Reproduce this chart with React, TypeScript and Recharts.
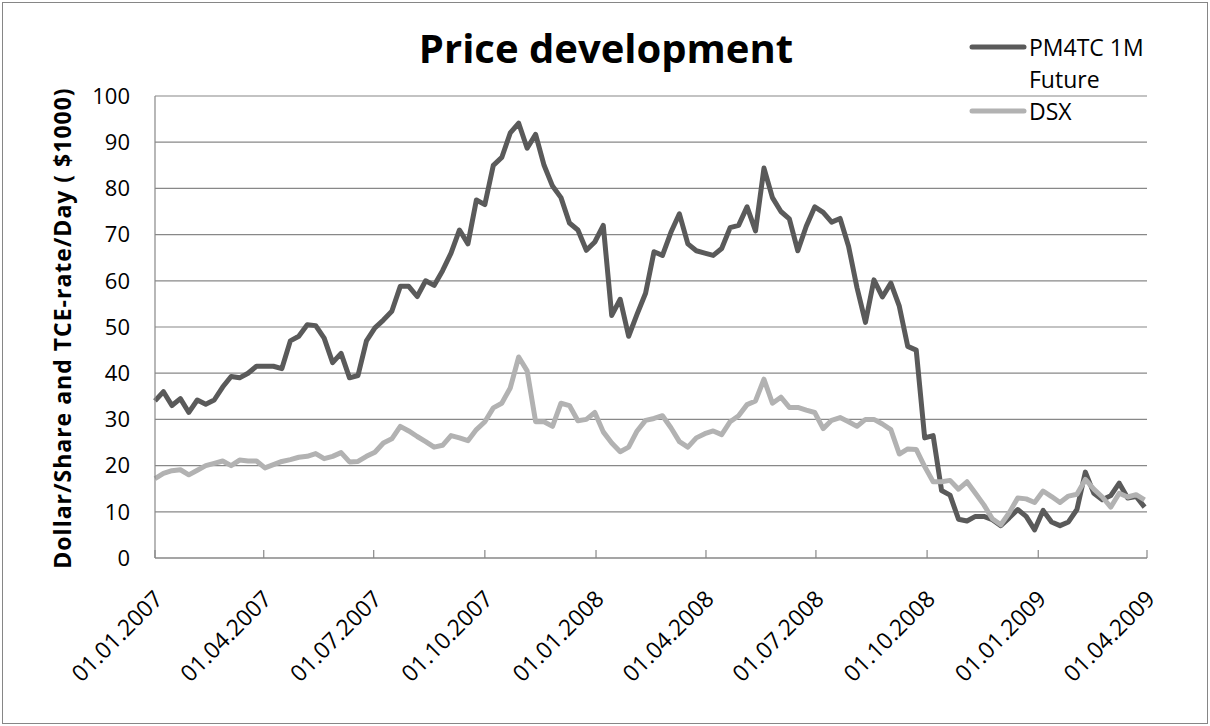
import React from "react";
import { LineChart, Line, XAxis, YAxis, CartesianGrid, Legend } from "recharts";

// weekly sampling points (Mondays)
const weekDates = [
  "2007-01-01", "2007-01-08", "2007-01-15", "2007-01-22", "2007-01-29",
  "2007-02-05", "2007-02-12", "2007-02-19", "2007-02-26",
  "2007-03-05", "2007-03-12", "2007-03-19", "2007-03-26",
  "2007-04-02", "2007-04-09", "2007-04-16", "2007-04-23", "2007-04-30",
  "2007-05-07", "2007-05-14", "2007-05-21", "2007-05-28",
  "2007-06-04", "2007-06-11", "2007-06-18", "2007-06-25",
  "2007-07-02", "2007-07-09", "2007-07-16", "2007-07-23", "2007-07-30",
  "2007-08-06", "2007-08-13", "2007-08-20", "2007-08-27",
  "2007-09-03", "2007-09-10", "2007-09-17", "2007-09-24",
  "2007-10-01", "2007-10-08", "2007-10-15", "2007-10-22", "2007-10-29",
  "2007-11-05", "2007-11-12", "2007-11-19", "2007-11-26",
  "2007-12-03", "2007-12-10", "2007-12-17", "2007-12-24", "2007-12-31",
  "2008-01-07", "2008-01-14", "2008-01-21", "2008-01-28",
  "2008-02-04", "2008-02-11", "2008-02-18", "2008-02-25",
  "2008-03-03", "2008-03-10", "2008-03-17", "2008-03-24", "2008-03-31",
  "2008-04-07", "2008-04-14", "2008-04-21", "2008-04-28",
  "2008-05-05", "2008-05-12", "2008-05-19", "2008-05-26",
  "2008-06-02", "2008-06-09", "2008-06-16", "2008-06-23", "2008-06-30",
  "2008-07-07", "2008-07-14", "2008-07-21", "2008-07-28",
  "2008-08-04", "2008-08-11", "2008-08-18", "2008-08-25",
  "2008-09-01", "2008-09-08", "2008-09-15", "2008-09-22", "2008-09-29",
  "2008-10-06", "2008-10-13", "2008-10-20", "2008-10-27",
  "2008-11-03", "2008-11-10", "2008-11-17", "2008-11-24",
  "2008-12-01", "2008-12-08", "2008-12-15", "2008-12-22", "2008-12-29",
  "2009-01-05", "2009-01-12", "2009-01-19", "2009-01-26",
  "2009-02-02", "2009-02-09", "2009-02-16", "2009-02-23",
  "2009-03-02", "2009-03-09", "2009-03-16", "2009-03-23", "2009-03-30",
];

const pm4tcValues = [
  34.0, 36.0, 33.0, 34.5, 31.5, 34.2, 33.3, 34.2, 37.0, 39.3,
  39.0, 40.0, 41.5, 41.5, 41.5, 41.0, 47.0, 48.0, 50.5, 50.3,
  47.6, 42.3, 44.3, 39.0, 39.5, 47.0, 49.8, 51.5, 53.4, 58.8,
  58.8, 56.6, 60.0, 59.0, 62.2, 66.0, 71.0, 68.0, 77.5, 76.5,
  85.0, 86.7, 92.0, 94.1, 88.7, 91.7, 85.0, 80.5, 78.0, 72.5,
  71.0, 66.6, 68.4, 72.0, 52.5, 56.0, 48.0, 52.8, 57.3, 66.3,
  65.5, 70.5, 74.5, 68.0, 66.5, 66.0, 65.5, 67.0, 71.5, 72.0,
  76.0, 70.8, 84.4, 78.0, 75.0, 73.4, 66.5, 71.8, 76.0, 74.8,
  72.7, 73.5, 67.5, 58.5, 51.0, 60.2, 56.5, 59.5, 54.5, 45.8,
  45.0, 26.0, 26.5, 14.6, 13.6, 8.4, 8.0, 9.0, 9.0, 8.3,
  7.0, 8.7, 10.5, 9.0, 6.1, 10.3, 7.8, 7.0, 7.8, 10.5,
  18.6, 14.0, 12.6, 13.5, 16.2, 13.0, 13.3, 11.0,
];

const dsxValues = [
  17.2, 18.3, 18.9, 19.1, 18.0, 19.0, 20.0, 20.5, 21.0, 20.0,
  21.2, 21.0, 21.0, 19.5, 20.2, 20.9, 21.3, 21.8, 22.0, 22.6,
  21.5, 22.0, 22.8, 20.8, 20.9, 22.0, 22.9, 24.9, 25.8, 28.5,
  27.5, 26.3, 25.2, 24.0, 24.4, 26.5, 26.0, 25.4, 27.8, 29.5,
  32.5, 33.5, 36.8, 43.5, 40.5, 29.5, 29.5, 28.5, 33.5, 33.0,
  29.7, 30.0, 31.5, 27.3, 24.9, 23.0, 24.0, 27.5, 29.8, 30.2,
  30.8, 28.2, 25.2, 24.0, 26.0, 26.9, 27.5, 26.7, 29.5, 30.8,
  33.2, 34.0, 38.7, 33.5, 34.8, 32.6, 32.6, 32.0, 31.5, 28.0,
  29.8, 30.4, 29.5, 28.5, 30.0, 30.0, 29.0, 27.8, 22.5, 23.6,
  23.5, 19.8, 16.5, 16.5, 16.8, 14.9, 16.5, 14.0, 11.5, 8.5,
  7.2, 9.8, 13.0, 12.8, 12.0, 14.5, 13.3, 12.0, 13.4, 13.8,
  17.0, 14.9, 13.2, 11.0, 14.0, 13.2, 13.7, 12.6,
];

const seriesNames = ["PM4TC 1M Future", "DSX"];

const quarterTicks = [
  "2007-01-01", "2007-04-01", "2007-07-01", "2007-10-01",
  "2008-01-01", "2008-04-01", "2008-07-01", "2008-10-01",
  "2009-01-01", "2009-04-01",
];

const yTicks = [0, 10, 20, 30, 40, 50, 60, 70, 80, 90, 100];

const data = weekDates.map((d, i) => ({
  t: Date.parse(d),
  pm4tc: pm4tcValues[i],
  dsx: dsxValues[i],
}));

const FONT = '"Open Sans", sans-serif';
const GRID = "#888888";

function formatDate(ms: number) {
  const d = new Date(ms);
  const dd = String(d.getUTCDate()).padStart(2, "0");
  const mm = String(d.getUTCMonth() + 1).padStart(2, "0");
  return `${dd}.${mm}.${d.getUTCFullYear()}`;
}

const DateTick = (props: any) => {
  const { x, y, payload } = props;
  const px = x + 3;
  return (
    <text
      x={px}
      y={y}
      textAnchor="end"
      dominantBaseline="central"
      transform={`rotate(-45 ${px} ${y})`}
      fontFamily={FONT}
      fontSize={23}
      fill="#000"
    >
      {formatDate(payload.value)}
    </text>
  );
};

const renderLegend = (props: any) => {
  const items = [...(props.payload || [])].sort(
    (a: any, b: any) => seriesNames.indexOf(a.value) - seriesNames.indexOf(b.value)
  );
  return (
    <div style={{ fontFamily: FONT, fontSize: 23, lineHeight: "32px", color: "#000" }}>
      {items.map((entry: any) => (
        <div key={entry.value} style={{ display: "flex", alignItems: "flex-start" }}>
          <svg width={58} height={32} style={{ flex: "none" }}>
            <line x1={3} x2={55} y1={16} y2={16} stroke={entry.color} strokeWidth={5} strokeLinecap="round" />
          </svg>
          <span style={{ width: 135, marginLeft: 2 }}>{entry.value}</span>
        </div>
      ))}
    </div>
  );
};

export default function App() {
  return (
    <div style={{ position: "absolute", left: 0, top: 0, width: 1210, height: 726, background: "#fff" }}>
      <LineChart width={1210} height={726} data={data} margin={{ top: 96, right: 63, bottom: 0, left: 0 }}>
        <CartesianGrid vertical={false} stroke={GRID} strokeWidth={1.2} />
        <XAxis
          dataKey="t"
          type="number"
          domain={[Date.parse("2007-01-01"), Date.parse("2009-04-01")]}
          ticks={quarterTicks.map((d) => Date.parse(d))}
          height={168}
          stroke={GRID}
          strokeWidth={1.2}
          tickSize={-8}
          tickMargin={44}
          tick={<DateTick />}
          interval={0}
        />
        <YAxis
          domain={[0, 100]}
          ticks={yTicks}
          width={155}
          stroke={GRID}
          strokeWidth={1.2}
          tickLine={false}
          tickSize={0}
          tickMargin={25}
          tick={{ fontFamily: FONT, fontSize: 22, fill: "#000" }}
          interval={0}
        />
        <Legend
          content={renderLegend}
          layout="vertical"
          align="center"
          verticalAlign="middle"
          wrapperStyle={{ left: 969, top: 31, width: 200 }}
        />
        <Line
          name={seriesNames[0]}
          type="linear"
          dataKey="pm4tc"
          stroke="#5a5a5a"
          strokeWidth={5}
          strokeLinejoin="round"
          dot={false}
          isAnimationActive={false}
        />
        <Line
          name={seriesNames[1]}
          type="linear"
          dataKey="dsx"
          stroke="#b2b2b2"
          strokeWidth={5}
          strokeLinejoin="round"
          dot={false}
          isAnimationActive={false}
        />
      </LineChart>
      <svg
        width={1210}
        height={726}
        style={{ position: "absolute", left: 0, top: 0, pointerEvents: "none" }}
      >
        <rect x={2.5} y={2.5} width={1205} height={721} fill="none" stroke="#868686" strokeWidth={1} />
        <text x={606} y={63} textAnchor="middle" fontFamily={FONT} fontWeight={700} fontSize={40} fill="#000">
          Price development
        </text>
        <text
          x={62}
          y={328}
          textAnchor="middle"
          dominantBaseline="central"
          transform="rotate(-90 62 328)"
          fontFamily={FONT}
          fontWeight={700}
          fontSize={23}
          letterSpacing={1}
          fill="#000"
        >
          Dollar/Share and TCE-rate/Day ( $1000)
        </text>
      </svg>
    </div>
  );
}
